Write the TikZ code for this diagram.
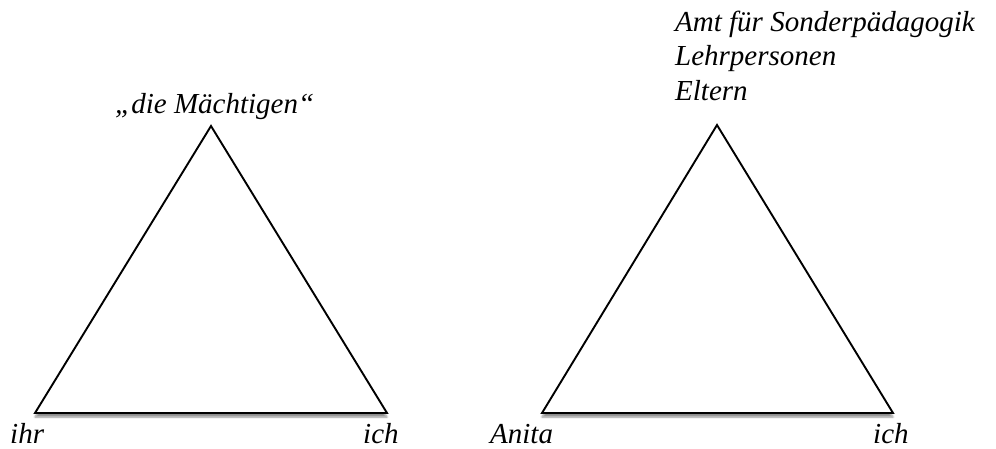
\documentclass[tikz,border=0pt]{standalone}
\usepackage{fontspec}
\setmainfont{Liberation Serif}
\usetikzlibrary{shadows.blur}

\tikzset{
    corner/.style={font=\fontsize{29}{34}\selectfont\itshape, anchor=base west, inner sep=0pt},
    side/.style={line width=1.9pt, line join=miter, fill=white,
        blur shadow={shadow xshift=0pt, shadow yshift=-4pt, shadow opacity=45, shadow blur steps=6}}
}

\begin{document}
\begin{tikzpicture}[x=1pt, y=-1pt]
    \useasboundingbox (0, 0) rectangle (996, 448);

    % left triangle
    \coordinate (l0) at (211, 126);
    \coordinate (l1) at (35, 413);
    \coordinate (l2) at (387, 413);
    \draw[side] (l0) -- (l1) -- (l2) -- cycle;

    \node[corner] (top1) at (115, 113) {„die Mächtigen“};
    \node[corner] (ihr) at (10, 443) {ihr};
    \node[corner] (ich1) at (363, 443) {ich};

    % right triangle
    \coordinate (r0) at (717, 125);
    \coordinate (r1) at (542, 413);
    \coordinate (r2) at (893, 413);
    \draw[side] (r0) -- (r1) -- (r2) -- cycle;

    \node[corner] (amt) at (675, 31) {Amt für Sonderpädagogik};
    \node[corner] (lehr) at (675, 65) {Lehrpersonen};
    \node[corner] (eltern) at (675, 100) {Eltern};
    \node[corner] (anita) at (490, 443) {Anita};
    \node[corner] (ich2) at (873, 443) {ich};
\end{tikzpicture}
\end{document}
